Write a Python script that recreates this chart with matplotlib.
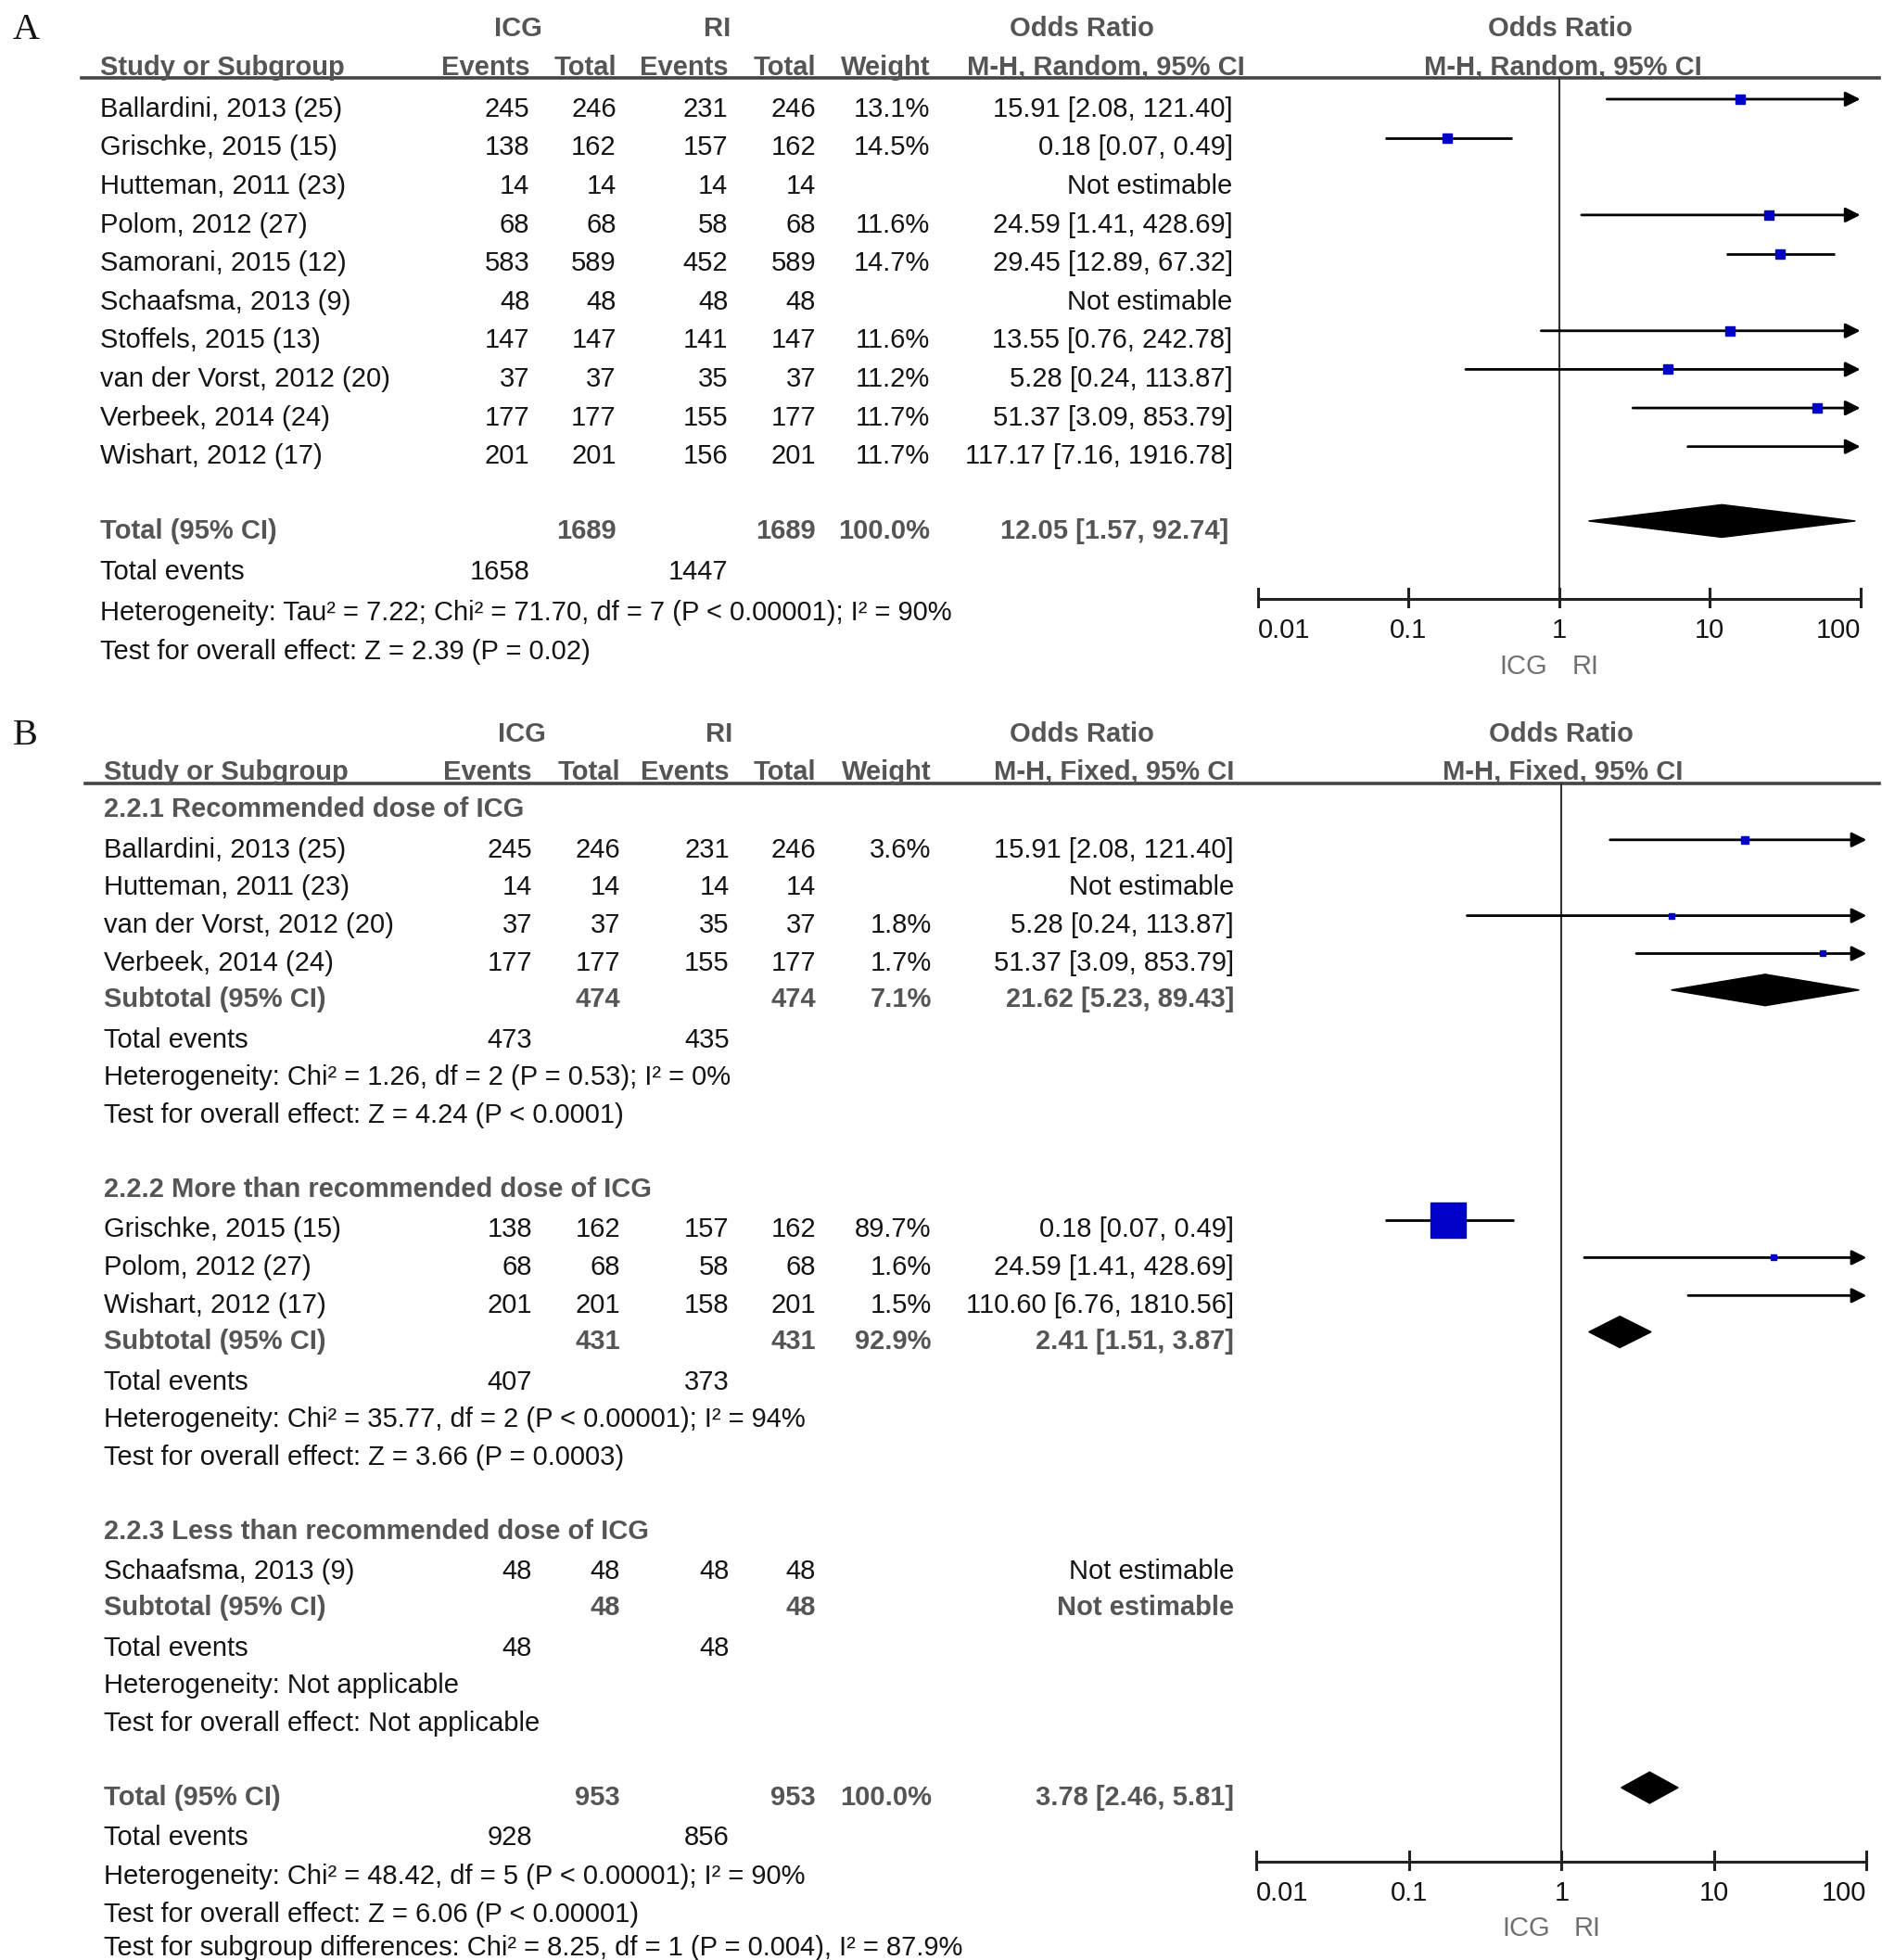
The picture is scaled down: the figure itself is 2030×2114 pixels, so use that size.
import matplotlib
matplotlib.use("Agg")
import matplotlib.pyplot as plt
from matplotlib.patches import Polygon
from matplotlib.transforms import offset_copy

plt.rcParams['font.family'] = ['Liberation Sans', 'DejaVu Sans']

# ---------------- Panel A data (random effects) ----------------
studies_A = ["Ballardini, 2013 (25)", "Grischke, 2015 (15)", "Hutteman, 2011 (23)", "Polom, 2012 (27)",
             "Samorani, 2015 (12)", "Schaafsma, 2013 (9)", "Stoffels, 2015 (13)", "van der Vorst, 2012 (20)",
             "Verbeek, 2014 (24)", "Wishart, 2012 (17)"]
icg_events_A = [245, 138, 14, 68, 583, 48, 147, 37, 177, 201]
icg_total_A = [246, 162, 14, 68, 589, 48, 147, 37, 177, 201]
ri_events_A = [231, 157, 14, 58, 452, 48, 141, 35, 155, 156]
ri_total_A = [246, 162, 14, 68, 589, 48, 147, 37, 177, 201]
weight_A = [13.1, 14.5, None, 11.6, 14.7, None, 11.6, 11.2, 11.7, 11.7]
or_A = [15.91, 0.18, None, 24.59, 29.45, None, 13.55, 5.28, 51.37, 117.17]
lo_A = [2.08, 0.07, None, 1.41, 12.89, None, 0.76, 0.24, 3.09, 7.16]
hi_A = [121.40, 0.49, None, 428.69, 67.32, None, 242.78, 113.87, 853.79, 1916.78]
total_n_A = [1689, 1689]
total_events_A = [1658, 1447]
total_weight_A = 100.0
total_or_A = [12.05, 1.57, 92.74]
het_A = "Heterogeneity: Tau\u00b2 = 7.22; Chi\u00b2 = 71.70, df = 7 (P < 0.00001); I\u00b2 = 90%"
test_A = "Test for overall effect: Z = 2.39 (P = 0.02)"

# ---------------- Panel B data (fixed effects, subgroups) ----------------
subgroup_names_B = ["2.2.1 Recommended dose of ICG", "2.2.2 More than recommended dose of ICG",
                    "2.2.3 Less than recommended dose of ICG"]
studies_B = [["Ballardini, 2013 (25)", "Hutteman, 2011 (23)", "van der Vorst, 2012 (20)", "Verbeek, 2014 (24)"],
             ["Grischke, 2015 (15)", "Polom, 2012 (27)", "Wishart, 2012 (17)"],
             ["Schaafsma, 2013 (9)"]]
icg_events_B = [[245, 14, 37, 177], [138, 68, 201], [48]]
icg_total_B = [[246, 14, 37, 177], [162, 68, 201], [48]]
ri_events_B = [[231, 14, 35, 155], [157, 58, 158], [48]]
ri_total_B = [[246, 14, 37, 177], [162, 68, 201], [48]]
weight_B = [[3.6, None, 1.8, 1.7], [89.7, 1.6, 1.5], [None]]
or_B = [[15.91, None, 5.28, 51.37], [0.18, 24.59, 110.60], [None]]
lo_B = [[2.08, None, 0.24, 3.09], [0.07, 1.41, 6.76], [None]]
hi_B = [[121.40, None, 113.87, 853.79], [0.49, 428.69, 1810.56], [None]]
sub_n_B = [[474, 474], [431, 431], [48, 48]]
sub_weight_B = [7.1, 92.9, None]
sub_or_B = [[21.62, 5.23, 89.43], [2.41, 1.51, 3.87], None]
sub_events_B = [[473, 435], [407, 373], [48, 48]]
sub_het_B = ["Heterogeneity: Chi\u00b2 = 1.26, df = 2 (P = 0.53); I\u00b2 = 0%",
             "Heterogeneity: Chi\u00b2 = 35.77, df = 2 (P < 0.00001); I\u00b2 = 94%",
             "Heterogeneity: Not applicable"]
sub_test_B = ["Test for overall effect: Z = 4.24 (P < 0.0001)",
              "Test for overall effect: Z = 3.66 (P = 0.0003)",
              "Test for overall effect: Not applicable"]
total_n_B = [953, 953]
total_events_B = [928, 856]
total_weight_B = 100.0
total_or_B = [3.78, 2.46, 5.81]
het_B = "Heterogeneity: Chi\u00b2 = 48.42, df = 5 (P < 0.00001); I\u00b2 = 90%"
test_B = "Test for overall effect: Z = 6.06 (P < 0.00001)"
subdiff_B = "Test for subgroup differences: Chi\u00b2 = 8.25, df = 1 (P = 0.004), I\u00b2 = 87.9%"

axis_ticks = [0.01, 0.1, 1, 10, 100]
axis_tick_labels = ["0.01", "0.1", "1", "10", "100"]

# ---------------- figure ----------------
W, H = 1500.0, 2114 / 2031 * 1500.0
SC = 2031 / 1500.0  # layout unit -> pixel
fig = plt.figure(figsize=(20.31, 21.14), dpi=100)
ax = fig.add_axes([0, 0, 1, 1])
ax.set_xlim(0, W)
ax.set_ylim(H, 0)
ax.axis('off')

BLACK = '#141414'
GRAY = '#555555'
FS = 21
CAP = 7.8  # half cap height in layout units


def T(x, y, s, ha='left', bold=False, color=BLACK, fs=FS, a=None):
    a = a or ax
    a.text(x, y + CAP, s, ha=ha, va='baseline', fontsize=fs,
           fontweight='bold' if bold else 'normal', color=color,
           transform=a.transData)


def fmt_or(o, l, h):
    if o is None:
        return "Not estimable"
    return f"{o:.2f} [{l:.2f}, {h:.2f}]"


def make_forest(x0, x1):
    fax = fig.add_axes([x0 / W, 0, (x1 - x0) / W, 1])
    fax.set_xscale('log')
    fax.set_xlim(0.01, 100)
    fax.set_ylim(H, 0)
    fax.axis('off')
    return fax


def draw_study(fax, y, o, l, h, w, k):
    if o is None:
        return
    ym = y - 6
    if h > 100:
        fax.annotate('', xy=(100, ym), xytext=(l, ym), xycoords='data',
                     arrowprops=dict(arrowstyle='-|>', mutation_scale=24, lw=2.0,
                                     color='black', shrinkA=0, shrinkB=0),
                     annotation_clip=False)
    else:
        fax.plot([l, h], [ym, ym], color='black', lw=2.0, solid_capstyle='butt')
    side = k * (w ** 0.5) * SC * 0.72
    fax.plot([o], [ym], marker='s', ms=side, color='#0000c8', mec='#0000c8', clip_on=True,
             zorder=5)


def draw_diamond(fax, y, vals, hh=12.5):
    o, l, h = vals
    ym = y - 6
    fax.add_patch(Polygon([(l, ym), (o, ym - hh), (h, ym), (o, ym + hh)], closed=True,
                          facecolor='black', edgecolor='black', lw=1, zorder=4))


def draw_axis(fax, y_axis, y_top, y_lab, y_icg):
    fax.plot([1, 1], [y_top, y_axis], color='#333333', lw=1.5)
    fax.plot([0.01, 100], [y_axis, y_axis], color='#222222', lw=2.2, clip_on=False)
    for t, lab in zip(axis_ticks, axis_tick_labels):
        fax.plot([t, t], [y_axis - 8, y_axis + 6], color='#222222', lw=2.2, clip_on=False)
        ha = 'left' if t == axis_ticks[0] else ('right' if t == axis_ticks[-1] else 'center')
        fax.text(t, y_lab + CAP, lab, ha=ha, va='baseline', fontsize=FS, color=BLACK)
    trl = offset_copy(fax.transData, fig=fig, x=-9 * SC * 0.72, units='points')
    trr = offset_copy(fax.transData, fig=fig, x=10 * SC * 0.72, units='points')
    fax.text(1, y_icg + CAP, "ICG", ha='right', va='baseline', fontsize=FS, color='#707070', transform=trl)
    fax.text(1, y_icg + CAP, "RI", ha='left', va='baseline', fontsize=FS, color='#707070', transform=trr)


# column right edges
colA = dict(ie=422, it=491, re=580, rt=650, w=741, orr=982)
colB = dict(ie=424, it=494, re=581, rt=650, w=742, orr=983)

# ================= Panel A =================
ax.text(10, 31, "A", fontsize=29, family=['Liberation Serif', 'DejaVu Serif'], color=BLACK, va='baseline')
T(413, 21, "ICG", ha='center', bold=True, color=GRAY)
T(571, 21, "RI", ha='center', bold=True, color=GRAY)
T(862, 21, "Odds Ratio", ha='center', bold=True, color=GRAY)
T(1243, 21, "Odds Ratio", ha='center', bold=True, color=GRAY)
T(80, 52, "Study or Subgroup", bold=True, color=GRAY)
T(colA['ie'], 52, "Events", ha='right', bold=True, color=GRAY)
T(colA['it'], 52, "Total", ha='right', bold=True, color=GRAY)
T(colA['re'], 52, "Events", ha='right', bold=True, color=GRAY)
T(colA['rt'], 52, "Total", ha='right', bold=True, color=GRAY)
T(colA['w'], 52, "Weight", ha='right', bold=True, color=GRAY)
T(992, 52, "M-H, Random, 95% CI", ha='right', bold=True, color=GRAY)
T(1245, 52, "M-H, Random, 95% CI", ha='center', bold=True, color=GRAY)
ax.plot([65, 1497], [62, 62], color='#444444', lw=2.6)

faxA = make_forest(1002, 1482)
for i, name in enumerate(studies_A):
    y = 85 + i * 30.75
    T(80, y, name)
    T(colA['ie'], y, str(icg_events_A[i]), ha='right')
    T(colA['it'], y, str(icg_total_A[i]), ha='right')
    T(colA['re'], y, str(ri_events_A[i]), ha='right')
    T(colA['rt'], y, str(ri_total_A[i]), ha='right')
    if weight_A[i] is not None:
        T(colA['w'], y, f"{weight_A[i]:.1f}%", ha='right')
    T(colA['orr'], y, fmt_or(or_A[i], lo_A[i], hi_A[i]), ha='right')
    draw_study(faxA, y, or_A[i], lo_A[i], hi_A[i], weight_A[i], 2.0)

yT = 421
T(80, yT, "Total (95% CI)", bold=True, color=GRAY)
T(colA['it'], yT, str(total_n_A[0]), ha='right', bold=True, color=GRAY)
T(colA['rt'], yT, str(total_n_A[1]), ha='right', bold=True, color=GRAY)
T(colA['w'], yT, f"{total_weight_A:.1f}%", ha='right', bold=True, color=GRAY)
T(colA['orr'] - 3, yT, fmt_or(*total_or_A), ha='right', bold=True, color=GRAY)
draw_diamond(faxA, yT, total_or_A, hh=13)
T(80, 454, "Total events")
T(colA['ie'], 454, str(total_events_A[0]), ha='right')
T(colA['re'], 454, str(total_events_A[1]), ha='right')
T(80, 486, het_A)
T(80, 517, test_A)
draw_axis(faxA, 477, 62, 500, 529)

# ================= Panel B =================
ax.text(10, 593, "B", fontsize=29, family=['Liberation Serif', 'DejaVu Serif'], color=BLACK, va='baseline')
T(416, 583, "ICG", ha='center', bold=True, color=GRAY)
T(573, 583, "RI", ha='center', bold=True, color=GRAY)
T(862, 583, "Odds Ratio", ha='center', bold=True, color=GRAY)
T(1244, 583, "Odds Ratio", ha='center', bold=True, color=GRAY)
T(83, 613, "Study or Subgroup", bold=True, color=GRAY)
T(colB['ie'], 613, "Events", ha='right', bold=True, color=GRAY)
T(colB['it'], 613, "Total", ha='right', bold=True, color=GRAY)
T(colB['re'], 613, "Events", ha='right', bold=True, color=GRAY)
T(colB['rt'], 613, "Total", ha='right', bold=True, color=GRAY)
T(colB['w'], 613, "Weight", ha='right', bold=True, color=GRAY)
T(983, 613, "M-H, Fixed, 95% CI", ha='right', bold=True, color=GRAY)
T(1245, 613, "M-H, Fixed, 95% CI", ha='center', bold=True, color=GRAY)
ax.plot([68, 1497], [624, 624], color='#444444', lw=2.6)

faxB = make_forest(1001, 1487)
y = 643
xL = 83
for g, gname in enumerate(subgroup_names_B):
    T(xL, y, gname, bold=True, color=GRAY)
    y += 32
    for j, name in enumerate(studies_B[g]):
        if j > 0:
            y += 30.2
        T(xL, y, name)
        T(colB['ie'], y, str(icg_events_B[g][j]), ha='right')
        T(colB['it'], y, str(icg_total_B[g][j]), ha='right')
        T(colB['re'], y, str(ri_events_B[g][j]), ha='right')
        T(colB['rt'], y, str(ri_total_B[g][j]), ha='right')
        if weight_B[g][j] is not None:
            T(colB['w'], y, f"{weight_B[g][j]:.1f}%", ha='right')
        T(colB['orr'], y, fmt_or(or_B[g][j], lo_B[g][j], hi_B[g][j]), ha='right')
        draw_study(faxB, y, or_B[g][j], lo_B[g][j], hi_B[g][j], weight_B[g][j], 2.96)
    y += 29
    T(xL, y, "Subtotal (95% CI)", bold=True, color=GRAY)
    T(colB['it'], y, str(sub_n_B[g][0]), ha='right', bold=True, color=GRAY)
    T(colB['rt'], y, str(sub_n_B[g][1]), ha='right', bold=True, color=GRAY)
    if sub_weight_B[g] is not None:
        T(colB['w'], y, f"{sub_weight_B[g]:.1f}%", ha='right', bold=True, color=GRAY)
    if sub_or_B[g] is not None:
        T(colB['orr'], y, fmt_or(*sub_or_B[g]), ha='right', bold=True, color=GRAY)
        draw_diamond(faxB, y, sub_or_B[g])
    else:
        T(colB['orr'], y, "Not estimable", ha='right', bold=True, color=GRAY)
    y += 32
    T(xL, y, "Total events")
    T(colB['ie'], y, str(sub_events_B[g][0]), ha='right')
    T(colB['re'], y, str(sub_events_B[g][1]), ha='right')
    y += 30
    T(xL, y, sub_het_B[g])
    y += 30
    T(xL, y, sub_test_B[g])
    y += 59

T(xL, y, "Total (95% CI)", bold=True, color=GRAY)
T(colB['it'], y, str(total_n_B[0]), ha='right', bold=True, color=GRAY)
T(colB['rt'], y, str(total_n_B[1]), ha='right', bold=True, color=GRAY)
T(colB['w'], y, f"{total_weight_B:.1f}%", ha='right', bold=True, color=GRAY)
T(colB['orr'], y, fmt_or(*total_or_B), ha='right', bold=True, color=GRAY)
draw_diamond(faxB, y, total_or_B)
y += 32
T(xL, y, "Total events")
T(colB['ie'], y, str(total_events_B[0]), ha='right')
T(colB['re'], y, str(total_events_B[1]), ha='right')
y += 31
T(xL, y, het_B)
y += 30
T(xL, y, test_B)
y += 27
T(xL, y, subdiff_B)
draw_axis(faxB, 1483, 624, 1506, 1534)

fig.savefig("out.png", dpi=100)
